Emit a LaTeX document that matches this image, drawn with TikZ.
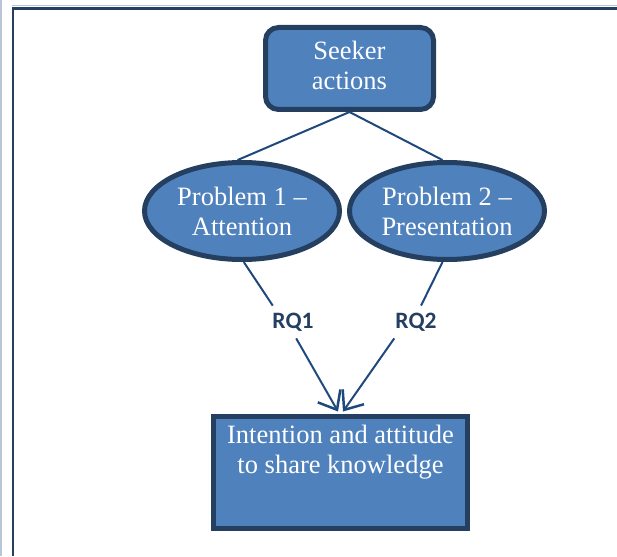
\documentclass[tikz,border=0pt]{standalone}
\usepackage{fontspec}
\setmainfont{Liberation Serif}
\newfontfamily\rqfont{Carlito}
\usetikzlibrary{shapes.geometric,arrows.meta}
\definecolor{boxfill}{HTML}{4F81BD}
\definecolor{boxline}{HTML}{243F60}
\definecolor{linkcol}{HTML}{1F497D}
\definecolor{framegrey}{HTML}{B9C5D6}
\begin{document}
\begin{tikzpicture}[x=1pt,y=-1pt,
    every node/.style={font=\fontsize{26.5}{30}\selectfont},
    seekbox/.style={draw=boxline,line width=5pt,fill=boxfill,text=white,rounded corners=13pt,
        minimum width=168pt,minimum height=82pt,align=center,inner sep=0pt},
    probbox/.style={ellipse,draw=boxline,line width=5pt,fill=boxfill,text=white,
        minimum width=195pt,minimum height=97pt,align=center,inner sep=0pt},
    sharebox/.style={draw=boxline,line width=5pt,fill=boxfill,text=white,inner sep=2pt},
    rqlabel/.style={font=\rqfont\bfseries\fontsize{23.5}{27}\selectfont,text=boxline,inner sep=7pt},
    link/.style={draw=linkcol,line width=2pt},
    arrowlink/.style={link,-{Straight Barb[length=16pt,width=26pt,line width=2.5pt]}}]
            \useasboundingbox (0,0) rectangle (617,556);
            \draw[framegrey,line width=1.5pt] (0.8,0) -- (0.8,556);
            \draw[framegrey,line width=1pt] (12,5.5) -- (617,5.5);
            \draw[boxline,line width=2.5pt] (13,8) -- (13,556);
            \draw[boxline,line width=2.5pt] (12,8.5) -- (617,8.5);
            \node[seekbox] (seek) at (349.5,68.5) {Seeker\\actions\rule[-6pt]{0pt}{6pt}};
            \node[probbox] (prob1) at (242,211) {Problem 1 --\\Attention};
            \node[probbox] (prob2) at (447,211) {Problem 2 --\\Presentation};
            \node[sharebox] (share) at (340.5,472.5)
                {\parbox[c][108pt][t]{250pt}{\centering\rule{0pt}{25pt}Intention and attitude\\to share knowledge}};
            \node[rqlabel] (rq1) at (293,322) {RQ1};
            \node[rqlabel] (rq2) at (416,322) {RQ2};
            \draw[link] (seek.south) -- (prob1.95);
            \draw[link] (seek.south) -- (prob2.95);
            \draw[link] (prob1.-88) -- (rq1.141);
            \draw[link] (prob2.-95) -- (rq2.73);
            \draw[arrowlink] (rq1.281) -- ([xshift=-2.5pt,yshift=2.5pt]share.north);
            \draw[arrowlink] (rq2.217) -- ([xshift=2.5pt,yshift=2.5pt]share.north);
            \end{tikzpicture}
\end{document}
